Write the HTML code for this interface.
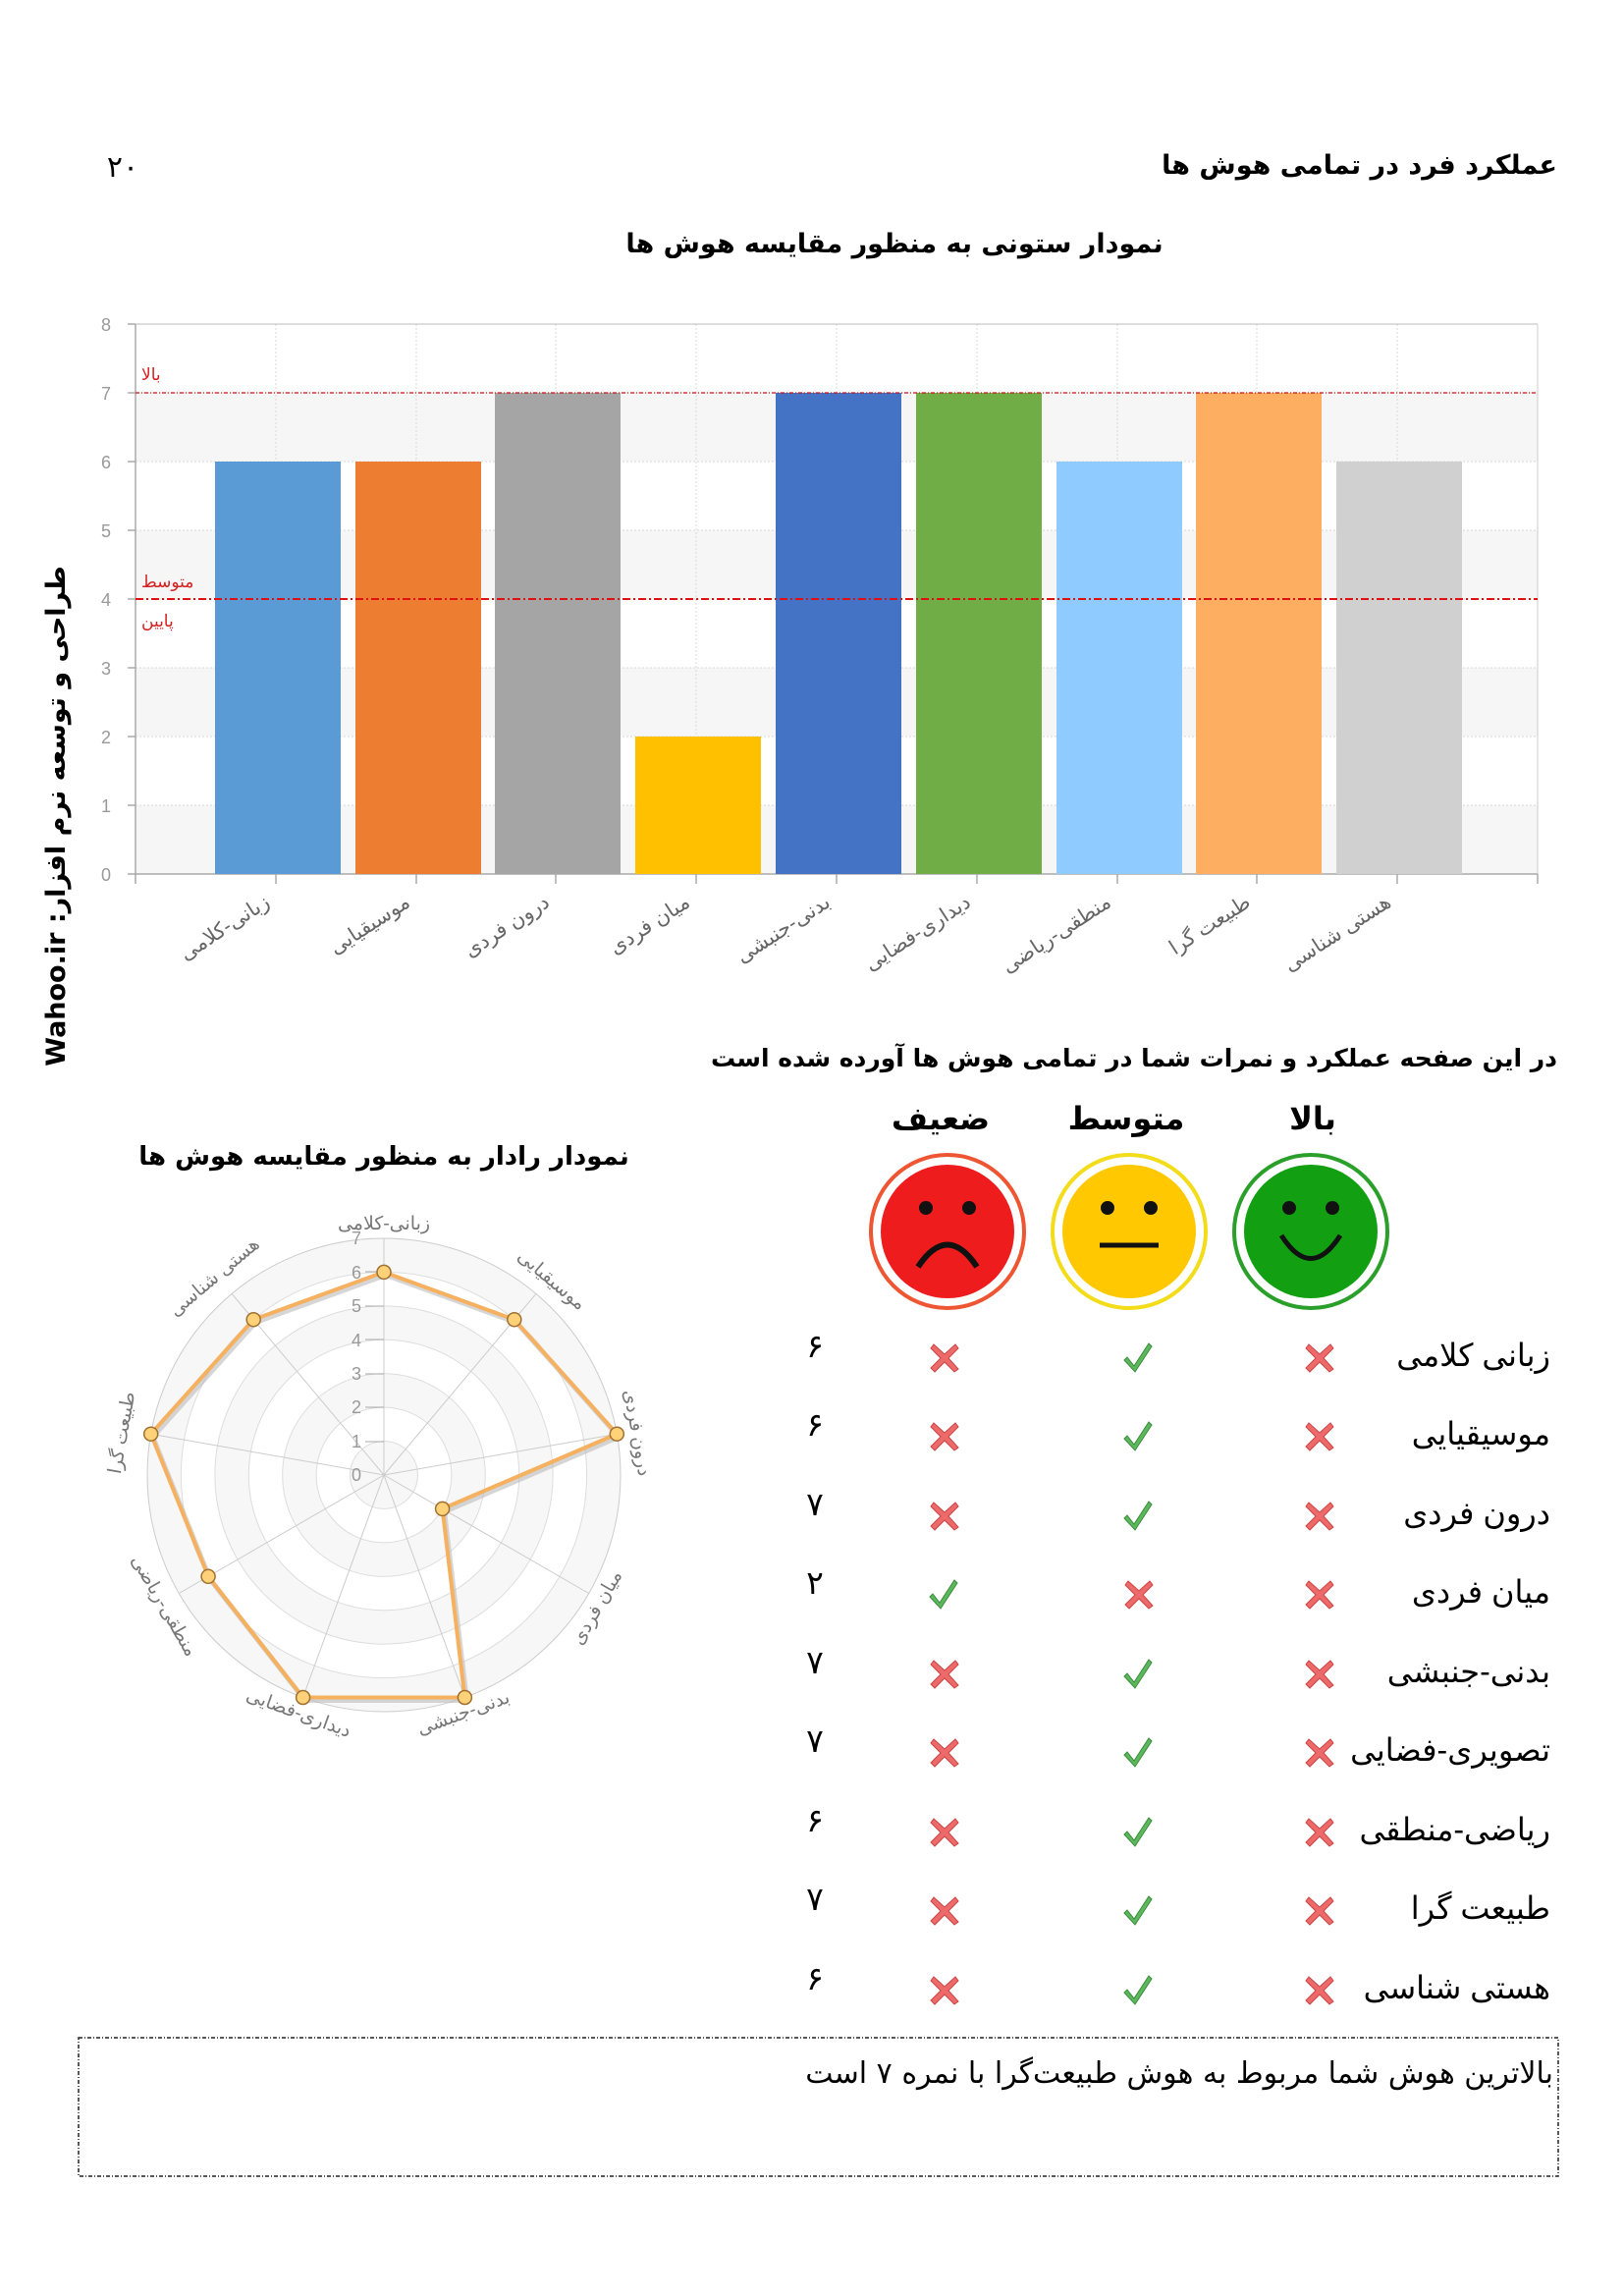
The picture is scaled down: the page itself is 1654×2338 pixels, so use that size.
<!DOCTYPE html>
<html><head><meta charset="utf-8"><style>
html,body{margin:0;padding:0;background:#fff;}
svg{display:block;}
text{font-family:"Liberation Sans","DejaVu Sans",sans-serif;}
.fa{font-family:"DejaVu Sans","Liberation Sans",sans-serif;}
</style></head><body>
<svg width="1654" height="2338" viewBox="0 0 1654 2338" xmlns="http://www.w3.org/2000/svg">
<text class="fa" x="1586" y="177" font-size="27" font-weight="bold" text-anchor="end">عملکرد فرد در تمامی هوش ها</text>
<text class="fa" x="125" y="180" font-size="30" text-anchor="middle">۲۰</text>
<text class="fa" x="911" y="257" font-size="27" font-weight="bold" text-anchor="middle">نمودار ستونی به منظور مقایسه هوش ها</text>

<rect x="138" y="330" width="1428" height="560" fill="#fff"/>
<rect x="138" y="400" width="1428" height="70" fill="#f6f6f6"/>
<rect x="138" y="540" width="1428" height="70" fill="#f6f6f6"/>
<rect x="138" y="680" width="1428" height="70" fill="#f6f6f6"/>
<rect x="138" y="820" width="1428" height="70" fill="#f6f6f6"/>
<g stroke="#d8d8d8" stroke-width="1" stroke-dasharray="2,2">
<line x1="138" y1="400" x2="1566" y2="400"/><line x1="138" y1="470" x2="1566" y2="470"/>
<line x1="138" y1="540" x2="1566" y2="540"/><line x1="138" y1="610" x2="1566" y2="610"/>
<line x1="138" y1="680" x2="1566" y2="680"/><line x1="138" y1="750" x2="1566" y2="750"/>
<line x1="138" y1="820" x2="1566" y2="820"/>
<line x1="281" y1="330" x2="281" y2="890"/><line x1="424" y1="330" x2="424" y2="890"/>
<line x1="566" y1="330" x2="566" y2="890"/><line x1="709" y1="330" x2="709" y2="890"/>
<line x1="852" y1="330" x2="852" y2="890"/><line x1="995" y1="330" x2="995" y2="890"/>
<line x1="1138" y1="330" x2="1138" y2="890"/><line x1="1280" y1="330" x2="1280" y2="890"/>
<line x1="1423" y1="330" x2="1423" y2="890"/>
</g>
<line x1="138" y1="330" x2="1566" y2="330" stroke="#bbb"/>
<line x1="1566" y1="330" x2="1566" y2="890" stroke="#ccc"/>
<line x1="138" y1="330" x2="138" y2="900" stroke="#aaa" stroke-width="1.5"/>
<line x1="130" y1="890" x2="1566" y2="890" stroke="#aaa" stroke-width="1.5"/>
<g stroke="#aaa" stroke-width="1.5">
<line x1="130" y1="330" x2="138" y2="330"/><line x1="130" y1="400" x2="138" y2="400"/><line x1="130" y1="470" x2="138" y2="470"/><line x1="130" y1="540" x2="138" y2="540"/><line x1="130" y1="610" x2="138" y2="610"/><line x1="130" y1="680" x2="138" y2="680"/><line x1="130" y1="750" x2="138" y2="750"/><line x1="130" y1="820" x2="138" y2="820"/>
<line x1="281" y1="890" x2="281" y2="900"/><line x1="424" y1="890" x2="424" y2="900"/><line x1="566" y1="890" x2="566" y2="900"/><line x1="709" y1="890" x2="709" y2="900"/><line x1="852" y1="890" x2="852" y2="900"/><line x1="995" y1="890" x2="995" y2="900"/><line x1="1138" y1="890" x2="1138" y2="900"/><line x1="1280" y1="890" x2="1280" y2="900"/><line x1="1423" y1="890" x2="1423" y2="900"/><line x1="1566" y1="890" x2="1566" y2="900"/>
</g>
<g font-size="18" fill="#999" text-anchor="middle">
<text x="108" y="337">8</text><text x="108" y="407">7</text><text x="108" y="477">6</text><text x="108" y="547">5</text><text x="108" y="617">4</text><text x="108" y="687">3</text><text x="108" y="757">2</text><text x="108" y="827">1</text><text x="108" y="897">0</text>
</g>
<rect x="219" y="470" width="128" height="420" fill="#5b9bd5"/>
<rect x="362" y="470" width="128" height="420" fill="#ed7d31"/>
<rect x="504" y="400" width="128" height="490" fill="#a5a5a5"/>
<rect x="647" y="750" width="128" height="140" fill="#ffc000"/>
<rect x="790" y="400" width="128" height="490" fill="#4472c4"/>
<rect x="933" y="400" width="128" height="490" fill="#70ad47"/>
<rect x="1076" y="470" width="128" height="420" fill="#8fcbff"/>
<rect x="1218" y="400" width="128" height="490" fill="#fdae61"/>
<rect x="1361" y="470" width="128" height="420" fill="#d0d0d0"/>
<line x1="138" y1="400" x2="1566" y2="400" stroke="#cc1111" stroke-width="1.3" stroke-dasharray="4,2,1,2"/>
<line x1="138" y1="610" x2="1566" y2="610" stroke="#dd1111" stroke-width="2" stroke-dasharray="8,3,2,3"/>
<g class="fa" font-size="17" fill="#d42020" text-anchor="start">
<text x="144" y="387">بالا</text>
<text x="144" y="598">متوسط</text>
<text x="144" y="638">پایین</text>
</g>
<g class="fa" font-size="21" fill="#666" text-anchor="end">
<text transform="translate(276,922) rotate(-33)">زبانی-کلامی</text>
<text transform="translate(419,922) rotate(-33)">موسیقیایی</text>
<text transform="translate(561,922) rotate(-33)">درون فردی</text>
<text transform="translate(704,922) rotate(-33)">میان فردی</text>
<text transform="translate(847,922) rotate(-33)">بدنی-جنبشی</text>
<text transform="translate(990,922) rotate(-33)">دیداری-فضایی</text>
<text transform="translate(1133,922) rotate(-33)">منطقی-ریاضی</text>
<text transform="translate(1275,922) rotate(-33)">طبیعت گرا</text>
<text transform="translate(1418,922) rotate(-33)">هستی شناسی</text>
</g>
<text transform="translate(66,831) rotate(-90)" font-size="27" font-weight="bold" text-anchor="middle" direction="rtl" class="fa">طراحی و توسعه نرم افزار: Wahoo.ir</text>

<text class="fa" x="1586" y="1086" font-size="25" font-weight="bold" text-anchor="end">در این صفحه عملکرد و نمرات شما در تمامی هوش ها آورده شده است</text>

<text class="fa" x="391" y="1186" font-size="26" font-weight="bold" text-anchor="middle">نمودار رادار به منظور مقایسه هوش ها</text>
<circle cx="391" cy="1502" r="241" fill="#f7f7f7" stroke="#ccc"/>
<circle cx="391" cy="1502" r="206.6" fill="#fff" stroke="#ddd"/>
<circle cx="391" cy="1502" r="172.1" fill="#f7f7f7" stroke="#ddd"/>
<circle cx="391" cy="1502" r="137.7" fill="#fff" stroke="#ddd"/>
<circle cx="391" cy="1502" r="103.3" fill="#f7f7f7" stroke="#ddd"/>
<circle cx="391" cy="1502" r="68.9" fill="#fff" stroke="#ddd"/>
<circle cx="391" cy="1502" r="34.4" fill="#f7f7f7" stroke="#ddd"/>
<g stroke="#ccc" stroke-width="1">
<line x1="391" y1="1502" x2="391" y2="1261"/>
<line x1="391" y1="1502" x2="545.9" y2="1317.4"/>
<line x1="391" y1="1502" x2="628.3" y2="1460.2"/>
<line x1="391" y1="1502" x2="599.7" y2="1622.5"/>
<line x1="391" y1="1502" x2="473.4" y2="1728.5"/>
<line x1="391" y1="1502" x2="308.6" y2="1728.5"/>
<line x1="391" y1="1502" x2="182.3" y2="1622.5"/>
<line x1="391" y1="1502" x2="153.7" y2="1460.2"/>
<line x1="391" y1="1502" x2="236.1" y2="1317.4"/>
</g>
<g font-size="18" fill="#999" text-anchor="end">
<text x="368" y="1508">0</text><text x="368" y="1474">1</text><text x="368" y="1439">2</text><text x="368" y="1405">3</text><text x="368" y="1371">4</text><text x="368" y="1336">5</text><text x="368" y="1302">6</text><text x="368" y="1267">7</text>
</g>
<g stroke="#aaa" stroke-width="1"><line x1="372" y1="1468" x2="391" y2="1468"/><line x1="372" y1="1433" x2="391" y2="1433"/><line x1="372" y1="1399" x2="391" y2="1399"/><line x1="372" y1="1364" x2="391" y2="1364"/><line x1="372" y1="1330" x2="391" y2="1330"/><line x1="372" y1="1295" x2="391" y2="1295"/></g>
<polygon points="391,1295.4 523.8,1343.7 628.3,1460.2 450.6,1536.4 473.4,1728.5 308.6,1728.5 212.1,1605.3 153.7,1460.2 258.2,1343.7" fill="none" stroke="#bbb" stroke-width="5" transform="translate(2,3)" opacity="0.6"/>
<polygon points="391,1295.4 523.8,1343.7 628.3,1460.2 450.6,1536.4 473.4,1728.5 308.6,1728.5 212.1,1605.3 153.7,1460.2 258.2,1343.7" fill="none" stroke="#f5b060" stroke-width="4"/>
<g fill="#ffd27a" stroke="#a07030" stroke-width="1.5">
<circle cx="391" cy="1295.4" r="7"/><circle cx="523.8" cy="1343.7" r="7"/><circle cx="628.3" cy="1460.2" r="7"/><circle cx="450.6" cy="1536.4" r="7"/><circle cx="473.4" cy="1728.5" r="7"/><circle cx="308.6" cy="1728.5" r="7"/><circle cx="212.1" cy="1605.3" r="7"/><circle cx="153.7" cy="1460.2" r="7"/><circle cx="258.2" cy="1343.7" r="7"/>
</g>
<g class="fa" font-size="19" fill="#777" text-anchor="middle">
<text transform="translate(391,1252) rotate(0)">زبانی-کلامی</text>
<text transform="translate(558,1308) rotate(40)">موسیقیایی</text>
<text transform="translate(643,1460) rotate(80)">درون فردی</text>
<text transform="translate(613,1640) rotate(-60)">میان فردی</text>
<text transform="translate(474,1750) rotate(-20)">بدنی-جنبشی</text>
<text transform="translate(302,1750) rotate(20)">دیداری-فضایی</text>
<text transform="translate(162,1638) rotate(60)">منطقی-ریاضی</text>
<text transform="translate(130,1460) rotate(-80)">طبیعت گرا</text>
<text transform="translate(222,1305) rotate(-40)">هستی شناسی</text>
</g>

<g class="fa" font-size="32" font-weight="bold" text-anchor="middle">
<text x="958" y="1150">ضعیف</text><text x="1147" y="1150">متوسط</text><text x="1337" y="1150">بالا</text>
</g>
<circle cx="965" cy="1254" r="78" fill="#fff" stroke="#ee5533" stroke-width="4"/>
<circle cx="965" cy="1254" r="68" fill="#ee1c1c"/>
<circle cx="943" cy="1230" r="7" fill="#111"/><circle cx="987" cy="1230" r="7" fill="#111"/>
<path d="M935 1290 Q965 1245 995 1290" fill="none" stroke="#111" stroke-width="6"/>
<circle cx="1150" cy="1254" r="78" fill="#fff" stroke="#f3dc1a" stroke-width="4"/>
<circle cx="1150" cy="1254" r="68" fill="#ffc800"/>
<circle cx="1128" cy="1230" r="7" fill="#111"/><circle cx="1172" cy="1230" r="7" fill="#111"/>
<line x1="1120" y1="1268" x2="1180" y2="1268" stroke="#111" stroke-width="5"/>
<circle cx="1335" cy="1254" r="78" fill="#fff" stroke="#2aa02a" stroke-width="4"/>
<circle cx="1335" cy="1254" r="68" fill="#12a012"/>
<circle cx="1313" cy="1230" r="7" fill="#111"/><circle cx="1357" cy="1230" r="7" fill="#111"/>
<path d="M1305 1258 Q1335 1305 1365 1258" fill="none" stroke="#111" stroke-width="5"/>

<defs>
<g id="x"><path d="M-11 -13 L0 -3 L11 -13 L14 -9 L4 1 L14 12 L10 15 L0 5 L-10 15 L-14 11 L-4 1 L-14 -9 Z" fill="#ec6a6a" stroke="#c44" stroke-width="1"/></g>
<g id="c"><path d="M-12 0 L-5 9 L10 -14 L13 -11 L-4 15 L-15 3 Z" fill="#5cb85c" stroke="#3a8a3a" stroke-width="1"/></g>
</defs>
<g class="fa" font-size="32" text-anchor="end">
<text x="1579" y="1391">زبانی کلامی</text>
<text x="1579" y="1471">موسیقیایی</text>
<text x="1579" y="1552">درون فردی</text>
<text x="1579" y="1632">میان فردی</text>
<text x="1579" y="1713">بدنی-جنبشی</text>
<text x="1579" y="1793">تصویری-فضایی</text>
<text x="1579" y="1874">ریاضی-منطقی</text>
<text x="1579" y="1954">طبیعت گرا</text>
<text x="1579" y="2035">هستی شناسی</text>
</g>
<g class="fa" font-size="33" text-anchor="middle">
<text x="830" y="1382">۶</text><text x="830" y="1462">۶</text><text x="830" y="1543">۷</text><text x="830" y="1623">۲</text><text x="830" y="1704">۷</text><text x="830" y="1784">۷</text><text x="830" y="1865">۶</text><text x="830" y="1945">۷</text><text x="830" y="2026">۶</text>
</g>
<use href="#x" x="962" y="1382"/><use href="#c" x="1160" y="1382"/><use href="#x" x="1344" y="1382"/>
<use href="#x" x="962" y="1462"/><use href="#c" x="1160" y="1462"/><use href="#x" x="1344" y="1462"/>
<use href="#x" x="962" y="1543"/><use href="#c" x="1160" y="1543"/><use href="#x" x="1344" y="1543"/>
<use href="#c" x="962" y="1623"/><use href="#x" x="1160" y="1623"/><use href="#x" x="1344" y="1623"/>
<use href="#x" x="962" y="1704"/><use href="#c" x="1160" y="1704"/><use href="#x" x="1344" y="1704"/>
<use href="#x" x="962" y="1784"/><use href="#c" x="1160" y="1784"/><use href="#x" x="1344" y="1784"/>
<use href="#x" x="962" y="1865"/><use href="#c" x="1160" y="1865"/><use href="#x" x="1344" y="1865"/>
<use href="#x" x="962" y="1945"/><use href="#c" x="1160" y="1945"/><use href="#x" x="1344" y="1945"/>
<use href="#x" x="962" y="2026"/><use href="#c" x="1160" y="2026"/><use href="#x" x="1344" y="2026"/>

<rect x="80" y="2075" width="1507" height="141" fill="none" stroke="#222" stroke-width="1.5" stroke-dasharray="4,2,1,2"/>
<text class="fa" x="1582" y="2121" font-size="30" text-anchor="end">بالاترین هوش شما مربوط به هوش طبیعت‌گرا با نمره ۷ است</text>
</svg>
</body></html>
